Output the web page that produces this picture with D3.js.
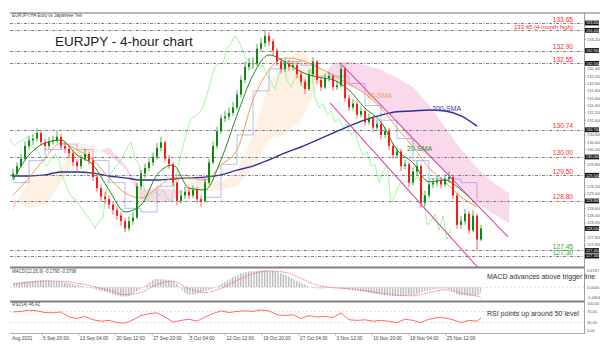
<!DOCTYPE html>
<html><head><meta charset="utf-8">
<script src="https://cdn.jsdelivr.net/npm/d3@7"></script>
<style>body{margin:0;background:#fff}svg{display:block;font-family:"Liberation Sans",Arial,sans-serif}</style>
</head><body><svg id="c" width="600" height="353"></svg>
<script>
// ---------- DATA ----------
const firstOpen = 129.45;
const closes = [129.55,129.75,129.95,130.30,130.45,130.50,130.65,130.40,130.30,130.42,
130.45,130.55,130.30,130.22,130.10,129.86,129.75,129.95,130.08,129.90,
129.45,129.15,128.92,128.85,128.70,128.55,128.40,128.25,128.05,128.25,
128.35,129.20,129.55,129.70,129.85,130.00,130.25,130.40,129.95,129.80,
129.30,128.80,128.95,129.05,128.95,129.10,128.85,128.80,129.30,129.85,
130.30,130.70,131.05,131.10,131.20,131.35,131.70,132.10,132.45,132.55,
132.55,132.95,133.10,133.30,133.15,132.90,132.60,132.40,132.55,132.45,
132.50,132.25,132.05,131.85,132.25,132.60,132.10,131.90,132.15,132.20,
131.90,131.95,132.40,131.60,131.35,131.45,131.15,131.25,130.95,131.05,
130.80,130.90,130.60,130.70,130.30,130.05,130.15,129.75,129.80,129.30,
129.60,129.75,128.75,128.95,129.25,129.30,129.35,129.25,129.40,129.45,
128.95,128.15,128.25,128.45,128.00,128.40,127.75,128.05];
const highs = [129.68,129.85,130.08,130.42,130.58,130.62,130.78,130.72,130.50,130.55,
130.58,130.70,130.62,130.40,130.30,130.15,129.95,130.05,130.22,130.15,
129.98,129.52,129.25,129.05,128.95,128.78,128.65,128.50,128.35,128.38,
128.50,129.30,129.65,129.82,129.98,130.12,130.38,130.55,130.45,130.05,
129.85,129.35,129.10,129.18,129.15,129.22,129.18,128.95,129.40,129.95,
130.42,130.82,131.15,131.25,131.35,131.50,131.82,132.22,132.60,132.70,
132.72,133.08,133.25,133.45,133.40,133.22,132.98,132.70,132.68,132.65,
132.62,132.58,132.35,132.12,132.38,132.72,132.65,132.18,132.28,132.32,
132.25,132.08,132.55,132.45,131.70,131.58,131.52,131.38,131.32,131.18,
131.12,131.02,130.98,130.82,130.78,130.38,130.28,130.22,129.92,129.85,
129.72,129.88,129.80,129.08,129.38,129.42,129.48,129.45,129.52,129.60,
129.50,129.02,128.40,128.58,128.52,128.55,128.45,128.15];
const lows = [129.38,129.48,129.70,129.90,130.20,130.32,130.42,130.30,130.18,130.22,
130.33,130.38,130.20,130.10,129.98,129.75,129.62,129.68,129.88,129.80,
129.35,129.05,128.80,128.72,128.58,128.42,128.28,128.12,127.95,127.98,
128.15,128.30,129.10,129.42,129.60,129.75,129.92,130.15,129.85,129.68,
129.20,128.68,128.72,128.85,128.85,128.88,128.75,128.65,128.75,129.25,
129.80,130.22,130.62,130.95,131.00,131.12,131.28,131.62,132.02,132.35,
132.40,132.48,132.88,133.00,133.02,132.78,132.48,132.28,132.32,132.35,
132.36,132.15,131.95,131.72,131.80,132.18,132.00,131.80,131.85,132.05,
131.80,131.82,131.90,131.50,131.25,131.28,131.05,131.08,130.85,130.88,
130.68,130.72,130.48,130.52,130.18,129.95,129.98,129.62,129.65,129.18,
129.22,129.50,128.62,128.65,128.88,129.15,129.20,129.15,129.18,129.30,
128.85,128.05,128.05,128.15,127.90,127.95,127.45,127.70];

// moving averages, sampled every 4 candles (index 0..116)
const sma200 = [129.48,129.48,129.51,129.59,129.59,129.56,129.48,129.43,129.37,129.37,129.40,129.43,129.45,129.51,129.64,129.75,129.92,130.11,130.27,130.46,130.65,130.84,131.01,131.14,131.23,131.25,131.28,131.25,131.12,130.84];
const sma50 = [128.96,129.43,129.97,130.38,130.19,129.92,129.43,129.02,128.88,129.15,129.43,129.43,129.37,129.78,130.19,131.55,132.37,132.70,132.64,132.45,132.23,131.99,131.72,131.33,130.79,130.27,129.70,129.32,128.91,128.64];
const sma20 = [129.37,130.05,130.38,130.46,130.05,129.78,129.10,128.50,128.69,129.51,129.78,129.15,129.10,129.92,131.14,132.23,132.78,132.59,132.32,132.18,132.10,131.82,131.33,130.95,130.19,129.84,129.32,129.37,129.10,128.69];
const kijun = [129.3,129.9,130.2,130.35,130.2,129.9,129.3,128.6,128.5,129.2,129.5,129.4,128.9,129.8,130.6,131.8,132.4,132.6,132.5,132.2,132.2,132.0,131.4,131.0,130.5,129.9,129.4,129.4,129.3,128.8];
const chikouShift = 7.5; // candles

// Ichimoku cloud spans, every 4 candles (index 0..124)
const spanA = [128.55,129.37,129.50,129.70,130.40,130.30,130.05,129.70,128.83,128.75,128.80,129.30,129.45,129.30,129.60,130.60,132.00,132.60,132.90,132.50,132.10,131.95,131.75,131.40,131.00,130.30,130.00,129.60,129.20,128.75,128.45,128.20];
const spanB = [128.85,128.60,128.70,129.30,130.00,130.10,130.25,129.80,129.10,129.15,129.10,129.05,129.05,129.10,129.20,129.70,130.50,130.60,131.00,131.90,132.56,132.60,132.50,132.37,132.15,131.90,131.40,130.80,130.20,129.70,129.30,129.00];

// channel lines [candleIndex, price]
const chanUpper = [[82.25,132.51],[123.75,127.82]];
const chanLower = [[79.25,131.47],[119.25,126.62]];

// horizontal levels
const levels = [133.65,133.45,132.90,132.55,130.74,130.00,129.50,128.80,127.45,127.30];
const levelText = ["133.65","133.45 (4-month high)","132.90","132.55","130.74","130.00","129.50","128.80","127.45","127.30"];

// MACD (12,26,9)
const macd = [0.15,0.22,0.26,0.20,0.08,-0.05,-0.22,-0.36,-0.05,0.30,0.22,-0.28,-0.15,0.10,0.45,0.60,0.62,0.45,0.15,-0.05,-0.02,-0.10,-0.18,-0.28,-0.33,-0.30,-0.10,-0.05,-0.30,-0.32,-0.18];
const macdSignal = [0.12,0.18,0.23,0.22,0.15,0.03,-0.12,-0.28,-0.20,0.10,0.22,-0.05,-0.20,-0.05,0.25,0.50,0.60,0.55,0.32,0.08,-0.02,-0.06,-0.13,-0.22,-0.30,-0.32,-0.20,-0.10,-0.22,-0.34,-0.38];
// RSI(14), every 2 candles + last
const rsi = [68,70,74,72,66,65,68,50,45,52,40,35,38,30,28,40,55,62,65,50,32,38,42,35,50,62,72,66,70,72,70,75,72,58,55,58,45,55,50,52,48,65,40,38,40,35,38,35,30,42,38,30,42,48,47,40,30,38,35,46];

// date axis
const dateLabels = ["Aug 2021","5 Sep 20:00","13 Sep 04:00","20 Sep 12:00","27 Sep 20:00","5 Oct 04:00","12 Oct 12:00","19 Oct 20:00","27 Oct 04:00","3 Nov 12:00","10 Nov 20:00","18 Nov 04:00","25 Nov 12:00"];
const dateIdx = [-0.25,7.25,16.43,25.6,34.8,43.95,53.1,62.3,71.5,80.65,89.8,99.0,108.2];

// ---------- DRAW ----------
const svg = d3.select("#c");
const n = closes.length;
const lineIdx = d3.range(0,117,4);
const cloudIdx = d3.range(0,125,4);
const macdIdx = d3.range(0,117,4).concat([117]);
const rsiIdx = d3.range(0,117,2).concat([117]);

const x = d3.scaleLinear().domain([0,117]).range([13,481]);
const y = d3.scaleLinear().domain([127.30,133.65]).range([256,23]);
const ym = d3.scaleLinear().domain([-0.4404,0.6767]).range([299,269]);
const yr = d3.scaleLinear().domain([0,100]).range([331,303]);

const defs = svg.append("defs");
defs.append("clipPath").attr("id","mc").append("rect").attr("x",10).attr("y",13).attr("width",574).attr("height",254);
const pat = defs.append("pattern").attr("id","hatch").attr("width",1.6).attr("height",4).attr("patternUnits","userSpaceOnUse");
pat.append("rect").attr("width",0.8).attr("height",4).attr("fill","#b4b4b4");

// frames
const frame = svg.append("g");
frame.append("line").attr("x1",10).attr("x2",600).attr("y1",13).attr("y2",13).attr("stroke","#a0a0a0").attr("stroke-width",1.5);
frame.append("line").attr("x1",10).attr("x2",584).attr("y1",267.5).attr("y2",267.5).attr("stroke","#808080").attr("stroke-width",2);
frame.append("line").attr("x1",10).attr("x2",584).attr("y1",301.5).attr("y2",301.5).attr("stroke","#808080").attr("stroke-width",2);
frame.append("line").attr("x1",10).attr("x2",584).attr("y1",333.5).attr("y2",333.5).attr("stroke","#b0b0b0").attr("stroke-width",1);
frame.append("line").attr("x1",584.5).attr("x2",584.5).attr("y1",13).attr("y2",334).attr("stroke","#a0a0a0").attr("stroke-width",1);

const main = svg.append("g").attr("clip-path","url(#mc)");

// cloud
const cloudG = main.append("g");
function poly(pts, bull){
  const col = bull ? "#fef1e4" : "#fbd9ec";
  cloudG.append("path").attr("d", d3.line().x(d=>x(d[0])).y(d=>y(d[1]))(pts)+"Z")
    .attr("fill",col).attr("stroke",col).attr("stroke-width",0.4);
}
for (let k=0;k<cloudIdx.length-1;k++){
  const i0=cloudIdx[k], i1=cloudIdx[k+1];
  const a0=spanA[k], a1=spanA[k+1], b0=spanB[k], b1=spanB[k+1];
  const d0=a0-b0, d1=a1-b1;
  if (d0*d1<0){
    const t=d0/(d0-d1), im=i0+t*(i1-i0), pm=a0+t*(a1-a0);
    poly([[i0,a0],[im,pm],[i0,b0]], d0>0);
    poly([[im,pm],[i1,a1],[i1,b1]], d1>0);
  } else poly([[i0,a0],[i1,a1],[i1,b1],[i0,b0]], (d0+d1)>0);
}

// levels
const levG = svg.append("g");
levels.forEach((lv,k)=>{
  levG.append("line").attr("x1",10).attr("x2",584).attr("y1",Math.round(y(lv))+0.5).attr("y2",Math.round(y(lv))+0.5)
    .attr("stroke","#606060").attr("stroke-width",0.8).attr("stroke-dasharray","3,1.5,1,1.5");
});

// chikou
main.append("path").datum(closes).attr("fill","none").attr("stroke","#86f586").attr("stroke-width",0.8)
  .attr("d", d3.line().x((d,i)=>x(i-chikouShift)).y(d=>y(d)));

// moving averages
function maLine(arr,col,w,curve){
  main.append("path").datum(arr).attr("fill","none").attr("stroke",col).attr("stroke-width",w)
    .attr("d", d3.line().x((d,k)=>x(lineIdx[k])).y(d=>y(d)).curve(curve));
}
maLine(kijun,"#8090f5",0.6,d3.curveStepAfter);
maLine(sma200,"#2e2e9e",1.4,d3.curveMonotoneX);
maLine(sma50,"#f5a04a",1.0,d3.curveMonotoneX);
maLine(sma20,"#238a23",1.0,d3.curveMonotoneX);

// channel
[chanUpper,chanLower].forEach(c=>{
  main.append("line").attr("x1",x(c[0][0])).attr("y1",y(c[0][1])).attr("x2",x(c[1][0])).attr("y2",y(c[1][1]))
    .attr("stroke","#e04aa8").attr("stroke-width",1.1);
});

// candles
const opens = closes.map((c,i)=> i===0 ? firstOpen : closes[i-1]);
const cg = main.append("g");
closes.forEach((c,i)=>{
  const o = opens[i], up = c>=o, col = up ? "#0d8a0d" : "#ff1a1a";
  cg.append("line").attr("x1",x(i)).attr("x2",x(i)).attr("y1",y(highs[i])).attr("y2",y(lows[i]))
    .attr("stroke",col).attr("stroke-width",0.7);
  const top = y(Math.max(o,c)), bot = y(Math.min(o,c));
  cg.append("rect").attr("x",x(i)-1).attr("y",top).attr("width",2).attr("height",Math.max(0.8,bot-top)).attr("fill",col);
});

// level labels
levels.forEach((lv,k)=>{
  const isSup = lv < 127.6;
  svg.append("text").attr("x",573).attr("y",y(lv)-1.5).attr("text-anchor","end").attr("font-size",k===1?6:6.6)
    .attr("fill", isSup ? "#2fa82f" : "#ff2a2a").text(levelText[k]);
});

// right price axis
const pax = svg.append("g");
const boxVals = levels.concat([closes[n-1]]);
y.ticks(30).filter(t=>t>127.05 && t<133.9 && boxVals.every(b=>Math.abs(y(b)-y(t))>5)).forEach(t=>{
  pax.append("line").attr("x1",584).attr("x2",586).attr("y1",y(t)).attr("y2",y(t)).attr("stroke","#888").attr("stroke-width",0.5);
  pax.append("text").attr("x",587).attr("y",y(t)+1.5).attr("font-size",4).attr("fill","#555").text(t.toFixed(3));
});
boxVals.forEach(lv=>{
  pax.append("rect").attr("x",585).attr("y",y(lv)-2.4).attr("width",14).attr("height",4.8).attr("fill","#111");
  pax.append("text").attr("x",586).attr("y",y(lv)+1.4).attr("font-size",3.8).attr("fill","#fff").text(lv.toFixed(3));
});

// annotations
svg.append("text").attr("x",55).attr("y",46).attr("font-size",13.5).attr("fill","#222").text("EURJPY - 4-hour chart");
svg.append("text").attr("x",12).attr("y",17).attr("font-size",4.5).attr("fill","#444").text("EURJPY,H4  Euro vs Japanese Yen");
svg.append("text").attr("x",432).attr("y",110.5).attr("font-size",7).attr("fill","#3a3aa8").text("200-SMA");
svg.append("text").attr("x",367).attr("y",98).attr("font-size",7).attr("fill","#f0a050").text("50-SMA");
svg.append("text").attr("x",407).attr("y",151).attr("font-size",7).attr("fill","#2a8a2a").text("20-SMA");

// MACD panel
const mg = svg.append("g");
mg.append("line").attr("x1",10).attr("x2",584).attr("y1",ym(0)).attr("y2",ym(0)).attr("stroke","#c8c8c8").attr("stroke-width",0.6).attr("stroke-dasharray","2,2");
mg.append("path").datum(macd).attr("fill","url(#hatch)")
  .attr("d", d3.area().x((d,k)=>x(macdIdx[k])).y0(ym(0)).y1(d=>ym(d)).curve(d3.curveMonotoneX));
mg.append("path").datum(macdSignal).attr("fill","none").attr("stroke","#ff5050").attr("stroke-width",0.8).attr("stroke-dasharray","1.5,1")
  .attr("d", d3.line().x((d,k)=>x(macdIdx[k])).y(d=>ym(d)).curve(d3.curveMonotoneX));
mg.append("text").attr("x",12).attr("y",272.5).attr("font-size",4.5).attr("fill","#444").text("MACD(12,26,9) -0.1790 -0.3798");
mg.append("text").attr("x",487).attr("y",279).attr("font-size",7).attr("fill","#333").text("MACD advances above trigger line");
[[0.6767,"0.6767"],[0,"0.0000"],[-0.4404,"-0.4404"]].forEach(d=>{
  mg.append("text").attr("x",587).attr("y",Math.min(298.5,Math.max(272,ym(d[0])+1.5))).attr("font-size",4).attr("fill","#555").text(d[1]);
});

// RSI panel
const rg = svg.append("g");
[70,30].forEach(v=>{
  rg.append("line").attr("x1",10).attr("x2",584).attr("y1",yr(v)).attr("y2",yr(v)).attr("stroke","#c8c8c8").attr("stroke-width",0.6).attr("stroke-dasharray","2,2");
});
rg.append("path").datum(rsi).attr("fill","none").attr("stroke","#ff5a5a").attr("stroke-width",0.9)
  .attr("d", d3.line().x((d,k)=>x(rsiIdx[k])).y(d=>yr(d)));
rg.append("text").attr("x",12).attr("y",306).attr("font-size",4.5).attr("fill","#444").text("RSI(14) 46.42");
rg.append("text").attr("x",487).attr("y",316).attr("font-size",7).attr("fill","#333").text("RSI points up around 50 level");
[100,70,30,0].forEach(v=>{
  rg.append("text").attr("x",587).attr("y",Math.min(332,Math.max(305,yr(v)+1.5))).attr("font-size",4).attr("fill","#555").text(v.toFixed(2));
});

// date axis
const dg = svg.append("g");
dateIdx.forEach((d,k)=>{
  const xx = x(d);
  if (k>0) dg.append("line").attr("x1",xx).attr("x2",xx).attr("y1",334).attr("y2",336).attr("stroke","#888").attr("stroke-width",0.5);
  dg.append("text").attr("x",k===0?12:xx+1).attr("y",339.5).attr("font-size",4.8).attr("fill","#444").text(dateLabels[k]);
});
</script>
</body></html>
